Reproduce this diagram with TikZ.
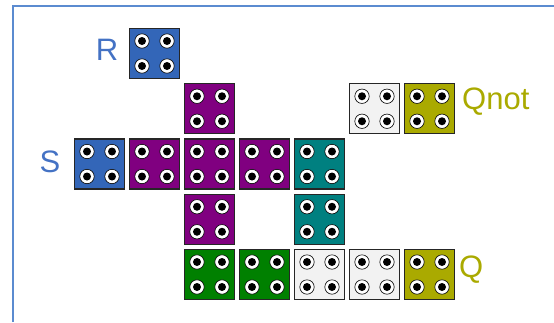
\documentclass[tikz,border=0pt]{standalone}
\usepackage{fontspec}
\setmainfont{Liberation Sans}
\definecolor{bordercol}{HTML}{5B8BD0}
\definecolor{cblue}{HTML}{3366B8}
\definecolor{cpurple}{HTML}{800080}
\definecolor{cteal}{HTML}{008080}
\definecolor{cgreen}{HTML}{008000}
\definecolor{cwhite}{HTML}{F2F2F2}
\definecolor{colive}{HTML}{AAAA00}
\definecolor{tblue}{HTML}{4472C4}
\definecolor{tolive}{HTML}{AAAA00}
\begin{document}
\begin{tikzpicture}[x=1pt,y=-1pt,
  blk/.style={draw=black!85, line width=1.1pt, minimum size=50pt, inner sep=0pt, outer sep=0pt},
  dotring/.style={fill=white, draw=black, line width=0.6pt},
  lbl/.style={font=\fontsize{31}{31}\selectfont, inner sep=0pt}]
\useasboundingbox (0,0) rectangle (554,322);
\draw[bordercol, line width=1.6pt] (13,322) -- (13,6) -- (554,6);
\newcommand\blk[4]{%
  \node[blk, fill=#4] (#1) at ({99.5+55*#2},{53.5+55.25*#3}) {};
  \foreach \dx in {-12.5,12.5} \foreach \dy in {-12.5,12.5} {
    \filldraw[dotring] ([shift={(\dx,\dy)}]#1.center) circle (7.2);
    \fill[black] ([shift={(\dx,\dy)}]#1.center) circle (4);
  }}
\blk{r}{1}{0}{cblue}
\blk{p1}{2}{1}{cpurple}
\blk{w1}{5}{1}{cwhite}
\blk{o1}{6}{1}{colive}
\blk{s}{0}{2}{cblue}
\blk{p2}{1}{2}{cpurple}
\blk{p3}{2}{2}{cpurple}
\blk{p4}{3}{2}{cpurple}
\blk{t1}{4}{2}{cteal}
\blk{p5}{2}{3}{cpurple}
\blk{t2}{4}{3}{cteal}
\blk{g1}{2}{4}{cgreen}
\blk{g2}{3}{4}{cgreen}
\blk{w2}{4}{4}{cwhite}
\blk{w3}{5}{4}{cwhite}
\blk{o2}{6}{4}{colive}
\node[lbl, text=tblue] (lr) at (107,50) {R};
\node[lbl, text=tblue] (ls) at (50,162) {S};
\node[lbl, text=tolive, anchor=west] (lqn) at (462,102) {Qnot};
\node[lbl, text=tolive, anchor=west] (lq) at (459,270) {Q};
\end{tikzpicture}
\end{document}
